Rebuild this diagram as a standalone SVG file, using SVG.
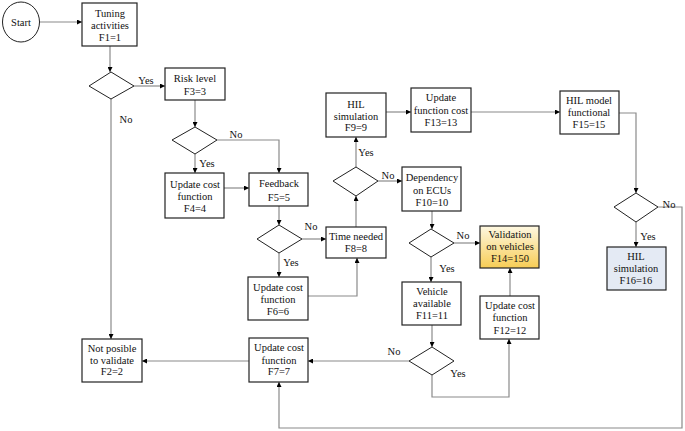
<svg xmlns="http://www.w3.org/2000/svg" width="685" height="431" viewBox="0 0 685 431">
<defs>
<marker id="ah" viewBox="0 0 10 10" refX="10" refY="5" markerWidth="5" markerHeight="5" markerUnits="userSpaceOnUse" orient="auto">
<path d="M0 0 L10 5 L0 10 z" fill="#000"/>
</marker>
<linearGradient id="yel" x1="0" y1="0" x2="0" y2="1">
<stop offset="0" stop-color="#fef8e2"/>
<stop offset="1" stop-color="#f7cd55"/>
</linearGradient>
<style>
.box{fill:#fff;stroke:#222;stroke-width:1.2}
.dia{fill:#fff;stroke:#222;stroke-width:1}
.c{fill:none;stroke:#8a8a8a;stroke-width:1.2}
.a{marker-end:url(#ah)}
text{font-family:"Liberation Serif","Times New Roman",serif;font-size:10.5px;fill:#111;text-anchor:middle}
</style>
</defs>
<rect width="685" height="431" fill="#fff"/>
<g id="connectors">
<path class="c a" d="M40 22 H82"/>
<path class="c a" d="M110 46 V72"/>
<path class="c a" d="M134 86 H165"/>
<path class="c a" d="M111 99 V339"/>
<path class="c a" d="M195 100 V127"/>
<path class="c a" d="M217 140 H279 V173"/>
<path class="c a" d="M195 154 V173"/>
<path class="c a" d="M224 188 H249"/>
<path class="c a" d="M279 206 V225"/>
<path class="c a" d="M302 239 H326"/>
<path class="c a" d="M279 253 V277"/>
<path class="c a" d="M308 296 H357 V258"/>
<path class="c a" d="M356 227 V196"/>
<path class="c a" d="M356 167 V137"/>
<path class="c a" d="M378 181 H402"/>
<path class="c a" d="M386 112 H411"/>
<path class="c a" d="M471 112 H560"/>
<path class="c a" d="M619 113 H636 V193"/>
<path class="c a" d="M636 222 V247"/>
<path class="c a" d="M658 207 H682 V428 H279 V382"/>
<path class="c a" d="M432 211 V229"/>
<path class="c a" d="M454 243 H480"/>
<path class="c a" d="M431 257 V282"/>
<path class="c a" d="M510 296 V268"/>
<path class="c a" d="M432 325 V347"/>
<path class="c a" d="M409 361 H308"/>
<path class="c a" d="M432 375 V397 H509 V339"/>
<path class="c a" d="M249 361 H142"/>
<text x="146" y="84">Yes</text>
<text x="126" y="123">No</text>
<text x="236" y="138">No</text>
<text x="207" y="167">Yes</text>
<text x="311" y="230">No</text>
<text x="291" y="266">Yes</text>
<text x="366" y="156">Yes</text>
<text x="388" y="179">No</text>
<text x="463" y="239">No</text>
<text x="447" y="272">Yes</text>
<text x="394" y="355">No</text>
<text x="458" y="377">Yes</text>
<text x="669" y="208">No</text>
<text x="648" y="240">Yes</text>
</g>
<g id="start"><ellipse cx="21" cy="22" rx="18.5" ry="20" fill="#fff" stroke="#222" stroke-width="1"/><text x="21" y="25.5">Start</text></g>
<g id="f1"><rect class="box" x="82" y="3" width="55" height="43"/><text x="110" y="17">Tuning</text><text x="110" y="29">activities</text><text x="110" y="41">F1=1</text></g>
<g id="d1"><polygon class="dia" points="89,86 111,72 134,86 111,99"/></g>
<g id="f3"><rect class="box" x="165" y="68" width="60" height="32"/><text x="195" y="82">Risk level</text><text x="195" y="95">F3=3</text></g>
<g id="d2"><polygon class="dia" points="172,140 195,127 217,140 195,154"/></g>
<g id="f4"><rect class="box" x="165" y="173" width="59" height="45"/><text x="195" y="188">Update cost</text><text x="195" y="200">function</text><text x="195" y="212">F4=4</text></g>
<g id="f5"><rect class="box" x="249" y="173" width="59" height="33"/><text x="279" y="187">Feedback</text><text x="279" y="201">F5=5</text></g>
<g id="d3"><polygon class="dia" points="257,239 279,225 302,239 279,253"/></g>
<g id="f8"><rect class="box" x="326" y="227" width="60" height="31"/><text x="356" y="240">Time needed</text><text x="356" y="252">F8=8</text></g>
<g id="f6"><rect class="box" x="248" y="277" width="60" height="43"/><text x="278" y="291">Update cost</text><text x="278" y="303">function</text><text x="278" y="315">F6=6</text></g>
<g id="d4"><polygon class="dia" points="333,181 356,167 378,181 356,196"/></g>
<g id="f9"><rect class="box" x="326" y="93" width="60" height="44"/><text x="356" y="108">HIL</text><text x="356" y="120">simulation</text><text x="356" y="131">F9=9</text></g>
<g id="f13"><rect class="box" x="411" y="88" width="60" height="44"/><text x="441" y="101">Update</text><text x="441" y="114">function cost</text><text x="441" y="126">F13=13</text></g>
<g id="f15"><rect class="box" x="560" y="91" width="59" height="43"/><text x="589" y="104">HIL model</text><text x="589" y="116">functional</text><text x="589" y="128">F15=15</text></g>
<g id="d5"><polygon class="dia" points="614,207 636,193 658,207 636,222"/></g>
<g id="f16"><rect class="box" x="607" y="247" width="59" height="43" style="fill:#e4eaf4"/><text x="636" y="260">HIL</text><text x="636" y="272">simulation</text><text x="636" y="284">F16=16</text></g>
<g id="f10"><rect class="box" x="402" y="167" width="59" height="44"/><text x="432" y="181">Dependency</text><text x="432" y="194">on ECUs</text><text x="432" y="206">F10=10</text></g>
<g id="d6"><polygon class="dia" points="409,243 431,229 454,243 431,257"/></g>
<g id="f14"><rect class="box" x="480" y="226" width="59" height="42" style="fill:url(#yel)"/><text x="510" y="238">Validation</text><text x="510" y="250">on vehicles</text><text x="510" y="262">F14=150</text></g>
<g id="f11"><rect class="box" x="402" y="282" width="59" height="43"/><text x="432" y="295">Vehicle</text><text x="432" y="307">available</text><text x="432" y="319">F11=11</text></g>
<g id="f12"><rect class="box" x="480" y="296" width="59" height="43"/><text x="510" y="309">Update cost</text><text x="510" y="321">function</text><text x="510" y="334">F12=12</text></g>
<g id="d7"><polygon class="dia" points="409,361 432,347 454,361 432,375"/></g>
<g id="f7"><rect class="box" x="249" y="338" width="59" height="44"/><text x="279" y="351">Update cost</text><text x="279" y="364">function</text><text x="279" y="375">F7=7</text></g>
<g id="f2"><rect class="box" x="82" y="339" width="60" height="43"/><text x="112" y="352">Not posible</text><text x="112" y="364">to validate</text><text x="112" y="375">F2=2</text></g>
</svg>
